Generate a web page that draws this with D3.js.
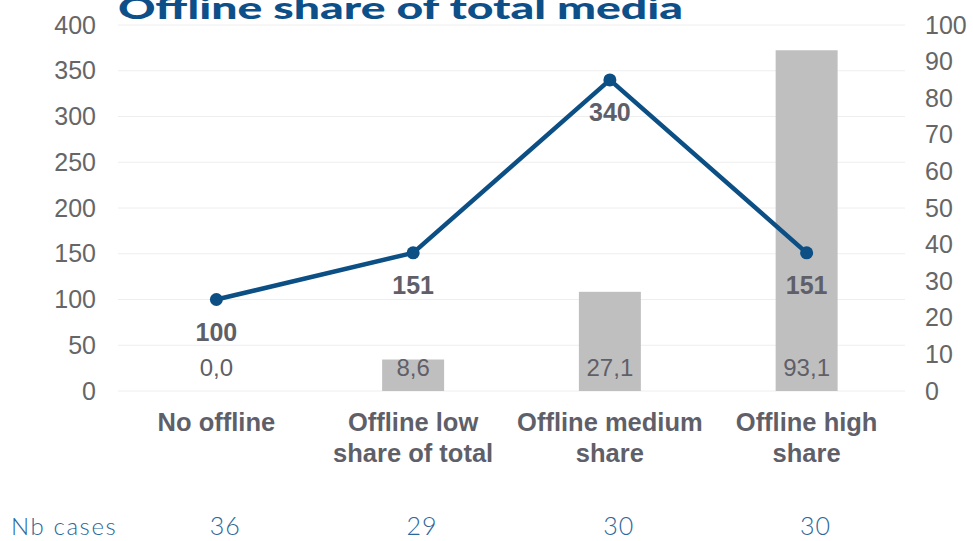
<!DOCTYPE html>
<html><head><meta charset="utf-8">
<script src="https://cdn.jsdelivr.net/npm/d3@7/dist/d3.min.js"></script>
<style>body{margin:0;background:#fff;}svg{display:block;}</style>
</head><body>
<svg id="c" width="973" height="541"></svg>
<script>
const categories = [["No offline"],["Offline low","share of total"],["Offline medium","share"],["Offline high","share"]];
const lineValues = [100, 151, 340, 151];
const barValues = [0.0, 8.6, 27.1, 93.1];
const nbCases = [36, 29, 30, 30];
const leftTicks = [0,50,100,150,200,250,300,350,400];
const rightTicks = [0,10,20,30,40,50,60,70,80,90,100];
const title = "Offline share of total media";

const svg = d3.select("#c");
const L = 118, R = 905, T = 25, B = 391;
const x = d3.scaleBand().domain(d3.range(categories.length)).range([L, R]).paddingInner(0).paddingOuter(0);
const yL = d3.scaleLinear().domain([0,400]).range([B,T]);
const yR = d3.scaleLinear().domain([0,100]).range([B,T]);
const cx = i => x(i) + x.bandwidth()/2;
const barW = x.bandwidth()*0.315;
const fmt = v => v.toFixed(1).replace(".", ",");
const gray = "#5f5f69";
const blue = "#0b4f85";

// gridlines
svg.append("g").selectAll("line").data(leftTicks).join("line")
  .attr("x1", L).attr("x2", R).attr("y1", d=>yL(d)).attr("y2", d=>yL(d))
  .attr("stroke", "#eeeeee").attr("stroke-width", 1);

// left axis
const axL = svg.append("g").attr("transform", `translate(96,0)`)
  .call(d3.axisLeft(yL).tickValues(leftTicks).tickSize(0).tickPadding(0));
axL.select(".domain").remove();
axL.selectAll("text").attr("font-family","Liberation Sans, Arial, sans-serif").attr("font-size",25).attr("fill","#666666");

// right axis
const axR = svg.append("g").attr("transform", `translate(925,0)`)
  .call(d3.axisRight(yR).tickValues(rightTicks).tickSize(0).tickPadding(0));
axR.select(".domain").remove();
axR.selectAll("text").attr("font-family","Liberation Sans, Arial, sans-serif").attr("font-size",25).attr("fill","#666666");

// bars
svg.append("g").selectAll("rect").data(barValues).join("rect")
  .attr("x", (d,i)=>cx(i)-barW/2).attr("width", barW)
  .attr("y", d=>yR(d)).attr("height", d=>B-yR(d))
  .attr("fill", "#bfbfbf");

// bar labels
svg.append("g").selectAll("text").data(barValues).join("text")
  .attr("x", (d,i)=>cx(i)).attr("y", B-15)
  .attr("text-anchor","middle")
  .attr("font-family","Liberation Sans, Arial, sans-serif").attr("font-size",24)
  .attr("fill", gray).text(d=>fmt(d));

// line
const line = d3.line().x((d,i)=>cx(i)).y(d=>yL(d));
svg.append("path").datum(lineValues).attr("d", line)
  .attr("fill","none").attr("stroke", blue).attr("stroke-width",4.5).attr("stroke-linejoin","round");
svg.append("g").selectAll("circle").data(lineValues).join("circle")
  .attr("cx",(d,i)=>cx(i)).attr("cy", d=>yL(d)).attr("r",6.5).attr("fill", blue);

// line labels
svg.append("g").selectAll("text").data(lineValues).join("text")
  .attr("x",(d,i)=>cx(i)).attr("y", d=>yL(d)+41)
  .attr("text-anchor","middle")
  .attr("font-family","Liberation Sans, Arial, sans-serif").attr("font-size",25).attr("font-weight","bold")
  .attr("fill", gray).text(d=>d);

// category labels
const cat = svg.append("g").selectAll("text").data(categories).join("text")
  .attr("text-anchor","middle")
  .attr("font-family","Liberation Sans, Arial, sans-serif").attr("font-size",25.5).attr("font-weight","bold")
  .attr("fill", gray);
cat.selectAll("tspan").data((d,i)=>d.map(s=>({s,i}))).join("tspan")
  .attr("x", d=>cx(d.i)).attr("y", (d,j)=>431 + j*31).text(d=>d.s);

// Nb cases
svg.append("text").attr("x", 11).attr("y", 535)
  .attr("font-family","Lato, sans-serif").attr("font-size",24).attr("font-weight",300).attr("fill","#2a679a")
  .attr("letter-spacing", 1.6)
  .text("Nb cases");
svg.append("g").selectAll("text").data(nbCases).join("text")
  .attr("x",(d,i)=>cx(i)+9).attr("y",535).attr("text-anchor","middle")
  .attr("font-family","Lato, sans-serif").attr("font-size",25).attr("font-weight",300).attr("fill","#2a679a")
  .attr("letter-spacing", 1)
  .text(d=>d);

// title
svg.append("text").attr("x", 118).attr("y", 19)
  .attr("font-family","Lato, sans-serif").attr("font-size",31).attr("font-weight",900)
  .attr("fill", "#0d5089").attr("textLength",565).attr("lengthAdjust","spacingAndGlyphs")
  .text(title);
</script>
</body></html>
